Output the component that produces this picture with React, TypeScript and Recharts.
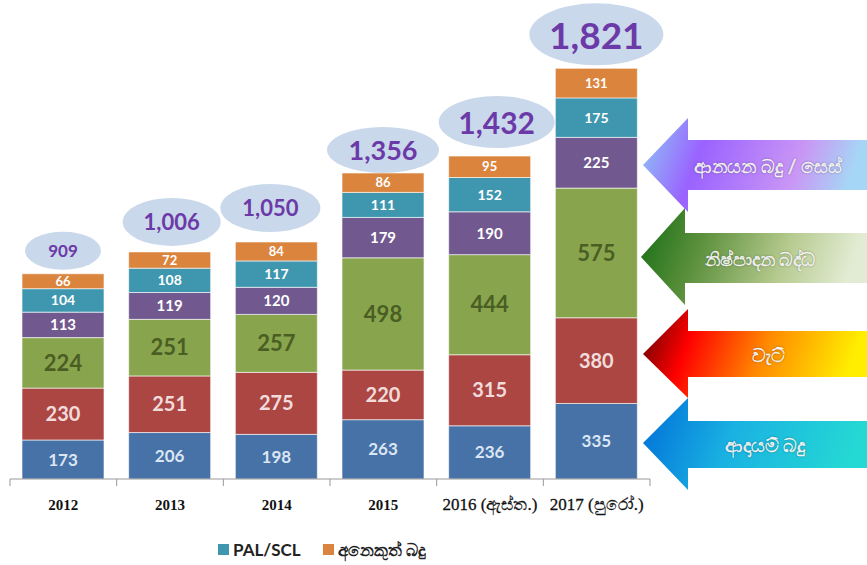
import React from "react";
import { BarChart, Bar, XAxis, YAxis, LabelList } from "recharts";

// Tax revenue by type (Rs. bn)
const years = ["2012", "2013", "2014", "2015", "2016 (ඇස්ත.)", "2017 (පුරෝ.)"];
const incomeTax = [173, 206, 198, 263, 236, 335];
const vat = [230, 251, 275, 220, 315, 380];
const excise = [224, 251, 257, 498, 444, 575];
const importCess = [113, 119, 120, 179, 190, 225];
const palScl = [104, 108, 117, 111, 152, 175];
const otherTaxes = [66, 72, 84, 86, 95, 131];
const totals = ["909", "1,006", "1,050", "1,356", "1,432", "1,821"];

const data = years.map((year, i) => ({
  year,
  incomeTax: incomeTax[i],
  vat: vat[i],
  excise: excise[i],
  importCess: importCess[i],
  palScl: palScl[i],
  otherTaxes: otherTaxes[i],
  total: totals[i],
}));

const series = [
  { key: "incomeTax", name: "ආදායම් බදු", color: "#4672a8", label: "#dce6f2", size: 17 },
  { key: "vat", name: "වැට්", color: "#ab4643", label: "#f2dcdb", size: 20 },
  { key: "excise", name: "නිෂ්පාදන බද්ධ", color: "#88a54d", label: "#4a5e24", size: 22 },
  { key: "importCess", name: "ආනයන බදු / සෙස්", color: "#71588f", label: "#ffffff", size: 15 },
  { key: "palScl", name: "PAL/SCL", color: "#3e97af", label: "#ffffff", size: 14 },
  { key: "otherTaxes", name: "අනෙකුත් බදු", color: "#db843d", label: "#ffffff", size: 13 },
];

// bubble look per year: radii, font size, lift above bar top, x shift
const bubbleStyle = [
  { rx: 38, ry: 19, fs: 17, lift: 23, dx: 0 },
  { rx: 49, ry: 24, fs: 22, lift: 30, dx: 2 },
  { rx: 50, ry: 24, fs: 22, lift: 34, dx: -6 },
  { rx: 56, ry: 23, fs: 27, lift: 23, dx: 0 },
  { rx: 58, ry: 26, fs: 30, lift: 34, dx: 7 },
  { rx: 67, ry: 31, fs: 37, lift: 34, dx: 0 },
];

const W = 867;
const H = 565;
const margin = { top: 28, right: 217, left: 10, bottom: 56 };
const step = (W - margin.left - margin.right) / years.length;
const FONT = "Lato, 'Open Sans', sans-serif";

const Bubble = (props: any) => {
  const { x, y, width, index } = props;
  const s = bubbleStyle[index];
  const cx = x + width / 2 + s.dx;
  const cy = y - s.lift;
  return (
    <g>
      <ellipse cx={cx} cy={cy} rx={s.rx} ry={s.ry} fill="#c9d8ea" />
      <text
        x={cx}
        y={cy}
        textAnchor="middle"
        dominantBaseline="central"
        fill="#6c3aa8"
        fontSize={s.fs}
        fontWeight="bold"
        fontFamily={FONT}
      >
        {totals[index]}
      </text>
    </g>
  );
};

const YearTick = (props: any) => {
  const { x, y, payload, index } = props;
  const axisY = y - 19;
  const long = String(payload.value).length > 4;
  return (
    <g>
      <line x1={x - step / 2} x2={x - step / 2} y1={axisY} y2={axisY + 7} stroke="#999" />
      {index === years.length - 1 ? (
        <line x1={x + step / 2} x2={x + step / 2} y1={axisY} y2={axisY + 7} stroke="#999" />
      ) : null}
      <text
        x={x}
        y={y + 12}
        textAnchor="middle"
        fill="#111"
        fontSize={long ? 17 : 15}
        fontWeight={long ? "normal" : "bold"}
        fontFamily="'Liberation Serif', 'DejaVu Serif', serif"
        stroke={long ? "#111" : "none"}
        strokeWidth={long ? 0.3 : 0}
      >
        {payload.value}
      </text>
    </g>
  );
};

const arrows = [
  {
    id: "gImport",
    text: "ආනයන බදු / සෙස්",
    tipX: 643, tipY: 165, baseX: 688, headTop: 118, headBot: 212, bodyTop: 140, bodyBot: 190, textX: 768,
    stops: [["0", "#8ec8f5"], ["0.3", "#9a62ff"], ["0.75", "#c996f5"], ["1", "#a6d6f5"]],
  },
  {
    id: "gExcise",
    text: "නිෂ්පාදන බද්ධ",
    tipX: 641, tipY: 257, baseX: 685, headTop: 208, headBot: 305, bodyTop: 233, bodyBot: 283, textX: 760,
    stops: [["0", "#146c14"], ["0.3", "#5a8f3a"], ["0.7", "#b7cb90"], ["1", "#e2ecd4"]],
  },
  {
    id: "gVat",
    text: "වැට්",
    tipX: 643, tipY: 354, baseX: 688, headTop: 309, headBot: 398, bodyTop: 331, bodyBot: 377, textX: 768,
    stops: [["0", "#5a0000"], ["0.25", "#ff0000"], ["0.6", "#ff8a00"], ["1", "#ffee00"]],
  },
  {
    id: "gIncome",
    text: "ආදායම් බදු",
    tipX: 643, tipY: 443, baseX: 688, headTop: 398, headBot: 490, bodyTop: 421, bodyBot: 468, textX: 765,
    stops: [["0", "#006ed8"], ["0.45", "#1ab2e2"], ["1", "#24d8d4"]],
  },
];

export default function App() {
  return (
    <div style={{ position: "absolute", left: 0, top: 0, width: W, height: H, background: "#fff" }}>
      <BarChart width={W} height={H} data={data} margin={margin} barSize={82}>
        <YAxis hide domain={[0, 2000]} />
        <XAxis
          dataKey="year"
          height={30}
          interval={0}
          tickLine={false}
          tickSize={7}
          tickMargin={12}
          axisLine={{ stroke: "#999" }}
          tick={<YearTick />}
        />
        {series.map((s, i) => (
          <Bar
            key={s.key}
            dataKey={s.key}
            name={s.name}
            stackId="tax"
            fill={s.color}
            stroke="#ffffff"
            strokeOpacity={0.6}
            strokeWidth={1}
            isAnimationActive={false}
          >
            <LabelList
              dataKey={s.key}
              position="center"
              fill={s.label}
              fontSize={s.size}
              fontWeight="bold"
              fontFamily={FONT}
            />
            {i === series.length - 1 ? <LabelList dataKey="total" content={<Bubble />} /> : null}
          </Bar>
        ))}
      </BarChart>

      <svg width={W} height={H} style={{ position: "absolute", left: 0, top: 0, pointerEvents: "none" }}>
        <defs>
          {arrows.map((a) => (
            <linearGradient key={a.id} id={a.id} x1="0" y1="0" x2="1" y2="0.15">
              {a.stops.map(([o, c]) => (
                <stop key={o} offset={o} stopColor={c} />
              ))}
            </linearGradient>
          ))}
        </defs>
        {arrows.map((a) => (
          <g key={a.id}>
            <polygon
              points={`${a.tipX},${a.tipY} ${a.baseX},${a.headTop} ${a.baseX},${a.bodyTop} ${W},${a.bodyTop} ${W},${a.bodyBot} ${a.baseX},${a.bodyBot} ${a.baseX},${a.headBot}`}
              fill={`url(#${a.id})`}
            />
            <text
              x={a.textX}
              y={(a.bodyTop + a.bodyBot) / 2}
              textAnchor="middle"
              dominantBaseline="central"
              fill="#ffffff"
              stroke="#ffffff"
              strokeWidth={0.4}
              fontSize={19}
              fontFamily={FONT}
              style={{ textShadow: "0 0 2px rgba(0,0,0,0.35)" }}
            >
              {a.text}
            </text>
          </g>
        ))}
      </svg>

      <div
        style={{
          position: "absolute",
          left: 218,
          top: 539,
          display: "flex",
          alignItems: "center",
          fontFamily: FONT,
          fontSize: 17,
          fontWeight: "bold",
          color: "#222",
        }}
      >
        {series.slice(4).map((s) => (
          <span key={s.key} style={{ display: "flex", alignItems: "center", marginRight: 22 }}>
            <span style={{ width: 11, height: 11, background: s.color, marginRight: 4 }} />
            {s.name}
          </span>
        ))}
      </div>
    </div>
  );
}
